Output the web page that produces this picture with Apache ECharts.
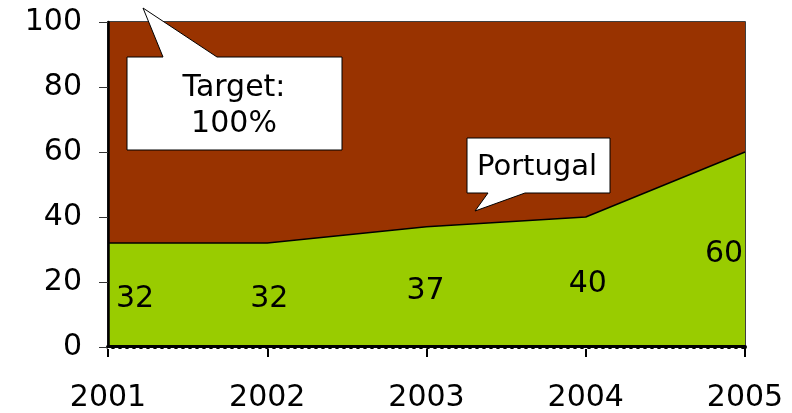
<!DOCTYPE html>
<html>
<head>
<meta charset="utf-8">
<script src="https://cdn.jsdelivr.net/npm/echarts@6/dist/echarts.min.js"></script>
<style>
  html, body { margin: 0; padding: 0; background: #fff; }
  #chart { width: 792px; height: 413px; }
</style>
</head>
<body>
<div id="chart"></div>
<script>
// data
var years = ['2001', '2002', '2003', '2004', '2005'];
var portugal = [32, 32, 37, 40, 60];
var target = [100, 100, 100, 100, 100];
var yTicks = [0, 20, 40, 60, 80, 100];
// where each value label sits relative to its point (px)
var labelOffsets = [[27, 56], [2, 56], [-1, 64], [2, 67], [-21, 102]];

var FONT = 'DejaVu Sans';
var chart = echarts.init(document.getElementById('chart'));

var portugalData = portugal.map(function (v, i) {
    return {
        value: v,
        label: { offset: labelOffsets[i] }
    };
});

chart.setOption({
    animation: false,
    backgroundColor: '#ffffff',
    grid: {
        left: 108, right: 47, top: 22, bottom: 63,
        show: true,
        borderColor: '#000',
        borderWidth: 1.5,
        backgroundColor: 'transparent'
    },
    xAxis: [
        {
            type: 'category',
            data: years,
            boundaryGap: false,
            axisLine: { lineStyle: { color: '#000', width: 4 } },
            axisTick: { show: true, length: 10, lineStyle: { color: '#000', width: 2 } },
            axisLabel: { color: '#000', fontFamily: FONT, fontSize: 30, margin: 36 },
            splitLine: { show: false },
            z: 10
        },
        {
            // white dashes along the lower half of the base line
            type: 'category',
            data: years,
            boundaryGap: false,
            position: 'bottom',
            offset: 1,
            axisLine: { lineStyle: { color: '#fff', width: 1, type: [3, 4] } },
            axisTick: { show: false },
            axisLabel: { show: false },
            splitLine: { show: false },
            z: 11
        }
    ],
    yAxis: {
        type: 'value',
        min: yTicks[0],
        max: yTicks[yTicks.length - 1],
        interval: 20,
        axisLine: { show: true, lineStyle: { color: '#000', width: 2.5 } },
        axisTick: { show: true, length: 9, lineStyle: { color: '#333', width: 1 } },
        axisLabel: { color: '#000', fontFamily: FONT, fontSize: 30, margin: 26 },
        splitLine: { show: false },
        z: 10
    },
    series: [
        {
            name: 'Target',
            type: 'line',
            data: target,
            symbol: 'none',
            lineStyle: { width: 0 },
            areaStyle: { color: '#993300', opacity: 1 },
            z: 1
        },
        {
            name: 'Portugal',
            type: 'line',
            data: portugalData,
            symbol: 'circle',
            symbolSize: 1,
            showSymbol: true,
            itemStyle: { color: 'rgba(0,0,0,0)' },
            lineStyle: { color: '#000', width: 1.5 },
            areaStyle: { color: '#99cc00', opacity: 1 },
            label: {
                show: true,
                position: 'inside',
                color: '#000',
                fontFamily: FONT,
                fontSize: 30
            },
            z: 2
        }
    ],
    graphic: [
        {
            type: 'polygon',
            shape: { points: [[127, 57], [163, 57], [143, 8], [217, 57], [342, 57], [342, 150], [127, 150]] },
            style: { fill: '#fff', stroke: '#000', lineWidth: 1 },
            z: 100
        },
        {
            type: 'text',
            x: 234, y: 88,
            style: { text: 'Target:', fill: '#000', font: '30px "DejaVu Sans"', align: 'center', verticalAlign: 'middle' },
            z: 101
        },
        {
            type: 'text',
            x: 234, y: 124,
            style: { text: '100%', fill: '#000', font: '30px "DejaVu Sans"', align: 'center', verticalAlign: 'middle' },
            z: 101
        },
        {
            type: 'polygon',
            shape: { points: [[467, 138], [610, 138], [610, 193], [525, 193], [475, 211], [488, 193], [467, 193]] },
            style: { fill: '#fff', stroke: '#000', lineWidth: 1 },
            z: 100
        },
        {
            type: 'text',
            x: 537, y: 167,
            style: { text: 'Portugal', fill: '#000', font: '29px "DejaVu Sans"', align: 'center', verticalAlign: 'middle' },
            z: 101
        }
    ]
});
</script>
</body>
</html>
